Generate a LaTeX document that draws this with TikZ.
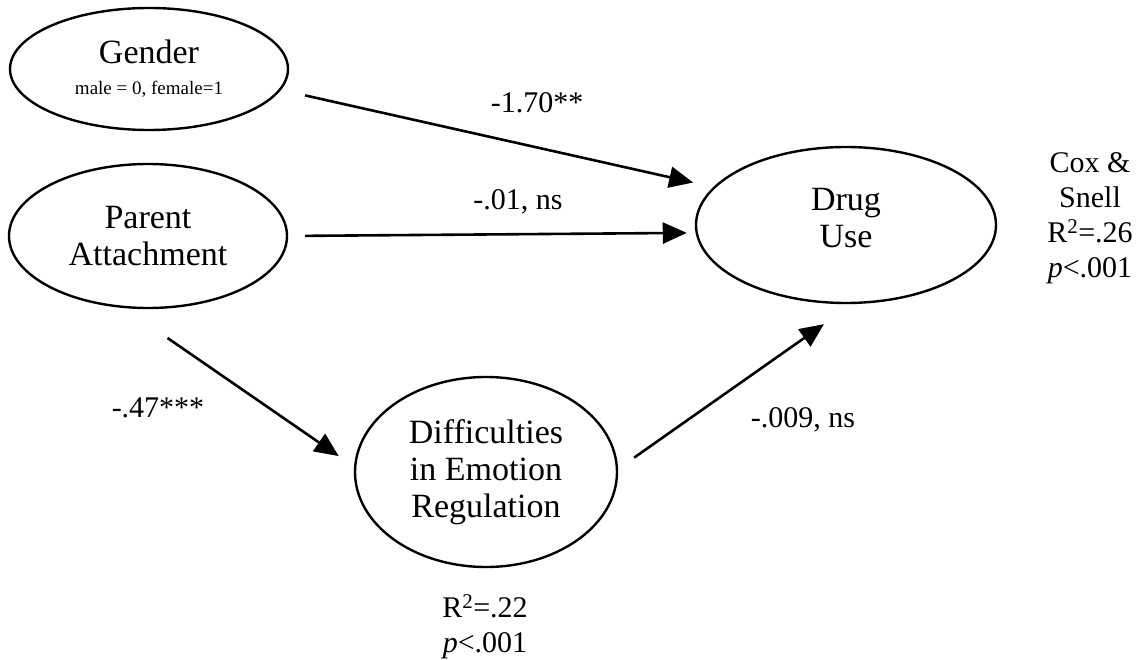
\documentclass[tikz,border=0pt]{standalone}
\usepackage{fontspec}
\setmainfont{Liberation Serif}
\usetikzlibrary{arrows.meta,shapes.geometric}
\begin{document}
\begin{tikzpicture}[x=1pt,y=-1pt,
  latent/.style={draw, line width=2.4pt, ellipse, inner sep=0pt, outer sep=0pt,
    align=center, font=\fontsize{34}{37}\selectfont},
  link/.style={line width=2.6pt, -{Triangle[length=24pt,width=21pt]}},
  coef/.style={font=\fontsize{30}{35}\selectfont, align=center, inner sep=0pt}]
\useasboundingbox[fill=white] (0,0) rectangle (1139,660);

% latent variables
\node[latent, minimum width=278pt, minimum height=122pt] (gender) at (149,69)
  {Gender\\[-6pt]{\fontsize{19}{22}\selectfont male = 0, female=1}};
\node[latent, minimum width=278pt, minimum height=144pt] (parent) at (148,236)
  {Parent\\Attachment};
\node[latent, minimum width=300pt, minimum height=156pt, text depth=14pt] (drug) at (846,225)
  {Drug\\Use};
\node[latent, minimum width=262pt, minimum height=190pt] (diff) at (486,472)
  {Difficulties\\in Emotion\\Regulation};

% paths
\draw[link, shorten <=26pt, shorten >=22pt] (gender.-9.3) -- (drug.164.2);
\draw[link, shorten <=18pt, shorten >=10pt] (parent.0.8) -- (drug.183.5);
\draw[link, shorten <=55pt, shorten >=20pt] (parent.-110) -- (diff.178.8);
\draw[link, shorten <=21pt, shorten >=37pt] (diff.1.4) -- (drug.-84);

% coefficients
\node[coef] (c1) at (537,103) {-1.70**};
\node[coef] (c2) at (518,202) {-.01, ns};
\node[coef] (c3) at (158,408) {-.47***};
\node[coef] (c4) at (803,420) {-.009, ns};

% model fit
\node[coef] (fitdrug) at (1090,218) {Cox \&\\Snell\\R\textsuperscript{2}=.26\\\textit{p}<.001};
\node[coef] (fitdiff) at (485,627) {R\textsuperscript{2}=.22\\\textit{p}<.001};
\end{tikzpicture}
\end{document}
